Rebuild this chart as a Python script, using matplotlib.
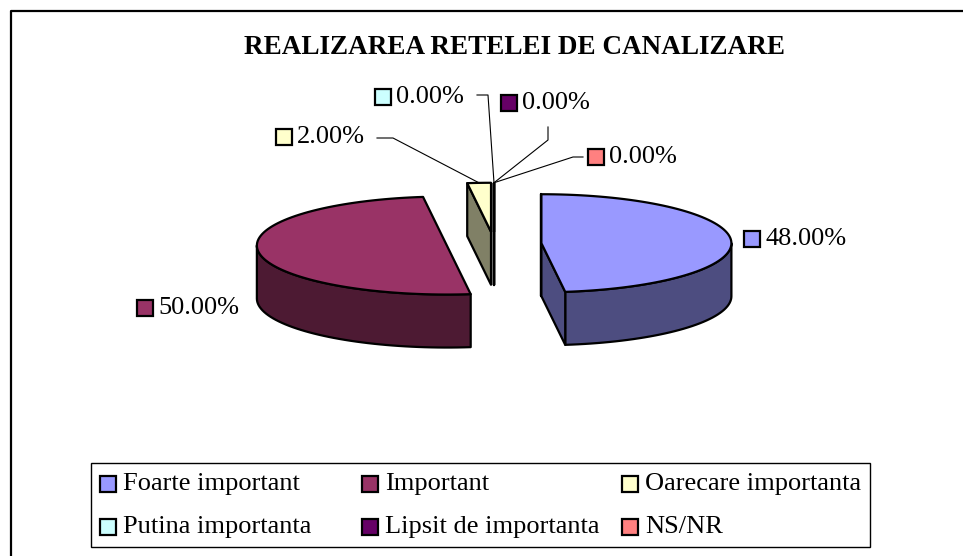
import numpy as np
import matplotlib.pyplot as plt
from matplotlib.patches import Polygon, Rectangle

# data
categories = ["Foarte important", "Important", "Oarecare importanta",
              "Putina importanta", "Lipsit de importanta", "NS/NR"]
values = [48.0, 50.0, 2.0, 0.0, 0.0, 0.0]
colors = ["#9999FF", "#993366", "#FFFFCC", "#CCFFFF", "#660066", "#FF8080"]
title = "REALIZAREA RETELEI DE CANALIZARE"

# pie geometry (pixels)
CX, CY = 494.0, 244.0
RX, RY = 190.0, 49.0
DEPTH = 53.0
EXPLODE = 0.25
LW = 1.6
SERIF = ["Liberation Serif", "DejaVu Serif"]

# data-label layout: (square left x, text centre y, leader line points)
label_pos = [
    (744, 239, None),
    (137, 308, None),
    (276, 137, [(377, 138), (393, 138)]),
    (375, 97, [(477, 95), (488, 95)]),
    (501, 103, [(548, 127), (548, 140)]),
    (588, 157, [(583, 157), (573, 157)]),
]

plt.rcParams["font.family"] = SERIF


def darker(c, f=0.5):
    r, g, b = [int(c[i:i + 2], 16) / 255 for i in (1, 3, 5)]
    return (r * f, g * f, b * f)


def pt(cx, cy, th, h=0.0):
    t = np.radians(th)
    return (cx + RX * np.sin(t), cy - RY * np.cos(t) + h)


def arc(cx, cy, a0, a1, h=0.0):
    if a1 == a0:
        return [pt(cx, cy, a0, h)]
    ths = np.linspace(a0, a1, int(abs(a1 - a0) / 2) + 2)
    return [pt(cx, cy, t, h) for t in ths]


def draw_slice(ax, cx, cy, a0, a1, color):
    side = darker(color)
    kw = dict(closed=True, ec="black", lw=LW, joinstyle="round")
    # outer wall (front half only)
    lo, hi = max(a0, 90), min(a1, 270)
    if hi > lo:
        poly = arc(cx, cy, lo, hi) + arc(cx, cy, lo, hi, DEPTH)[::-1]
        ax.add_patch(Polygon(poly, fc=side, **kw))
    # radial faces
    for a, vis in ((a0, np.sin(np.radians(a0)) < 1e-9),
                   (a1, np.sin(np.radians(a1)) > 1e-9)):
        if vis:
            p = pt(cx, cy, a)
            poly = [(cx, cy), p, (p[0], p[1] + DEPTH), (cx, cy + DEPTH)]
            ax.add_patch(Polygon(poly, fc=side, **kw))
    # top face
    poly = [(cx, cy)] + arc(cx, cy, a0, a1)
    ax.add_patch(Polygon(poly, fc=color, **kw))


fig = plt.figure(figsize=(9.63, 5.56), dpi=100)
ax = fig.add_axes([0, 0, 1, 1])
ax.set_xlim(0, 963)
ax.set_ylim(556, 0)
ax.axis("off")

# chart border (top and left visible)
ax.plot([11, 11, 963], [556, 11, 11], color="black", lw=1.6, solid_capstyle="butt")

ax.text(515, 47, title, ha="center", va="center", fontsize=19.5,
        fontweight="bold", family=SERIF)

total = sum(values)
starts = np.cumsum([0] + values[:-1]) / total * 360
ends = np.cumsum(values) / total * 360
slices = []
for i, v in enumerate(values):
    a0, a1 = starts[i], ends[i]
    mid = np.radians((a0 + a1) / 2)
    cx = CX + EXPLODE * RX * np.sin(mid)
    cy = CY - EXPLODE * RY * np.cos(mid)
    slices.append((cx, cy, a0, a1))

# back slices first, then front
order = sorted(range(len(values)),
               key=lambda i: -np.cos(np.radians((starts[i] + ends[i]) / 2)))
for i in order:
    cx, cy, a0, a1 = slices[i]
    draw_slice(ax, cx, cy, a0, a1, colors[i])

# data labels
SQ = 16
for i, v in enumerate(values):
    sx, ty, leader = label_pos[i]
    ax.add_patch(Rectangle((sx, ty - SQ / 2), SQ, SQ, fc=colors[i], ec="black", lw=1.6))
    ax.text(sx + SQ + 5, ty, f"{v:.2f}%", ha="left", va="center",
            fontsize=19, family=SERIF)
    if leader:
        cx, cy, a0, a1 = slices[i]
        end = pt(cx, cy, (a0 + a1) / 2)
        xs = [p[0] for p in leader] + [end[0]]
        ys = [p[1] for p in leader] + [end[1]]
        ax.plot(xs, ys, color="black", lw=0.8)

# legend
ax.add_patch(Rectangle((91, 463), 779, 84, fc="white", ec="black", lw=1.0))
col_x = [100, 362, 622]
row_y = [484, 527]
for i, name in enumerate(categories):
    x = col_x[i % 3]
    y = row_y[i // 3]
    ax.add_patch(Rectangle((x, y - SQ / 2), SQ, SQ, fc=colors[i], ec="black", lw=1.6))
    ax.text(x + SQ + 7, y, name, ha="left", va="center", fontsize=19, family=SERIF)

fig.savefig("out.png", dpi=100)
